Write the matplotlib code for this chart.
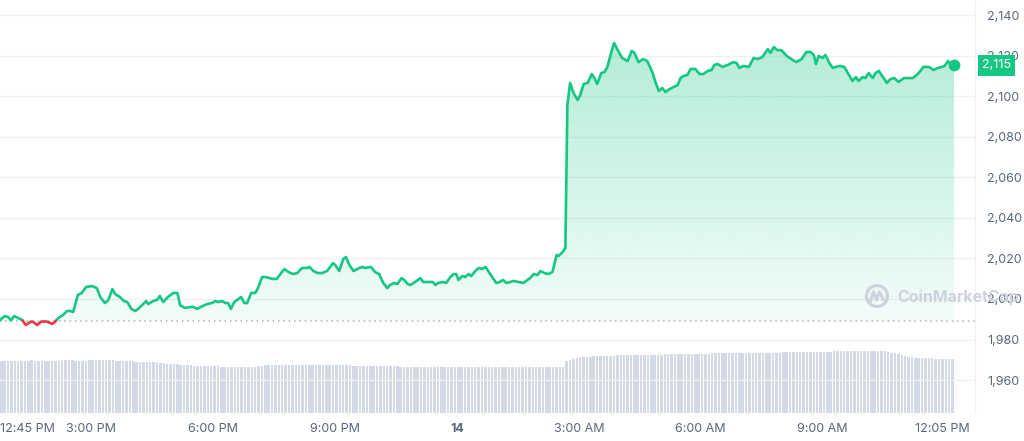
import numpy as np
import matplotlib
matplotlib.use("Agg")
import matplotlib.pyplot as plt
from matplotlib.patches import Circle
from matplotlib.path import Path

plt.rcParams['font.family'] = ['Inter', 'DejaVu Sans']

# ---------------- data ----------------
# minutes after 12:45 PM (13th)
times = [0, 7, 12, 16, 21, 27, 33, 38, 46, 49, 55, 61, 69, 77, 81, 86, 93, 99, 103, 108,
         115, 121, 127, 136, 143, 148, 155, 160, 166, 170, 177, 183, 188, 194, 200, 204, 210, 216, 219, 226,
         232, 236, 241, 248, 256, 262, 266, 273, 282, 285, 291, 299, 306, 313, 318, 322, 328, 333, 337, 341,
         346, 352, 356, 361, 365, 371, 377, 381, 387, 393, 402, 409, 414, 420, 426, 433, 439, 446, 454, 457,
         463, 469, 476, 483, 492, 495, 501, 507, 511, 516, 522, 531, 535, 539, 548, 554, 560, 566, 572, 576,
         582, 587, 593, 597, 602, 606, 613, 621, 625, 633, 639, 643, 647, 655, 659, 665, 670, 674, 677, 683,
         687, 692, 696, 702, 707, 712, 717, 721, 727, 733, 738, 743, 748, 754, 758, 766, 773, 779, 783, 788,
         794, 798, 804, 810, 816, 822, 825, 831, 835, 838, 842, 847, 853, 857, 862, 868, 874, 878, 882, 888,
         893, 897, 903, 907, 913, 919, 927, 933, 937, 943, 950, 956, 964, 968, 973, 978, 983, 989, 995, 1001,
         1005, 1009, 1015, 1020, 1027, 1033, 1039, 1045, 1051, 1055, 1060, 1067, 1075, 1083, 1088, 1092, 1098, 1106, 1113, 1119,
         1126, 1134, 1138, 1143, 1148, 1154, 1162, 1171, 1176, 1184, 1191, 1197, 1202, 1205, 1209, 1215, 1219, 1225, 1230, 1234,
         1240, 1247, 1253, 1259, 1264, 1268, 1274, 1278, 1283, 1289, 1293, 1298, 1304, 1310, 1315, 1321, 1327, 1335, 1341, 1348,
         1352, 1358, 1364, 1372, 1379, 1385, 1391, 1395, 1400, 1404, 1409]

prices = [1989.6, 1991.6, 1991.1, 1989.5, 1991.6, 1990.6, 1989.6, 1987.2, 1988.9, 1988.7, 1987.2, 1988.9, 1988.9, 1987.7, 1988.7, 1990.6, 1992.1, 1994.1, 1994.1, 1993.6,
          2002.0, 2003.0, 2005.9, 2006.4, 2005.4, 2001.0, 1998.0, 1999.5, 2004.9, 2002.5, 2001.0, 1999.0, 1998.5, 1995.1, 1994.1, 1995.1, 1997.0, 1999.0, 1997.5, 1999.0,
          1999.5, 2001.5, 1998.5, 2001.0, 2003.0, 2003.0, 1997.0, 1995.6, 1996.1, 1996.1, 1995.1, 1996.5, 1997.5, 1998.0, 1999.0, 1998.5, 1999.0, 1998.0, 1998.0, 1995.1,
          1998.5, 2000.0, 2001.0, 1998.0, 1998.0, 2003.0, 2003.0, 2005.4, 2010.8, 2010.8, 2009.9, 2009.9, 2012.3, 2014.8, 2013.3, 2012.3, 2012.8, 2015.3, 2015.3, 2015.8,
          2013.8, 2012.8, 2012.8, 2013.8, 2017.7, 2016.8, 2013.8, 2019.7, 2020.7, 2016.8, 2013.8, 2015.3, 2015.8, 2015.3, 2015.8, 2013.3, 2012.3, 2007.9, 2005.4, 2006.9,
          2007.9, 2007.4, 2010.3, 2009.4, 2007.4, 2006.9, 2008.4, 2010.3, 2008.4, 2008.4, 2008.4, 2006.9, 2007.9, 2008.4, 2007.9, 2010.8, 2012.3, 2012.3, 2009.4, 2011.3,
          2010.8, 2012.3, 2011.3, 2013.8, 2015.3, 2014.8, 2015.8, 2013.8, 2010.8, 2007.9, 2008.4, 2009.4, 2007.9, 2008.4, 2008.9, 2008.4, 2007.9, 2009.4, 2010.3, 2012.3,
          2011.8, 2013.8, 2012.8, 2012.3, 2013.3, 2021.7, 2021.2, 2023.2, 2025.1, 2095.6, 2106.5, 2101.6, 2098.1, 2100.6, 2106.0, 2106.5, 2110.9, 2108.9, 2106.0, 2111.4,
          2111.9, 2114.4, 2121.8, 2126.2, 2122.3, 2118.8, 2117.3, 2122.3, 2121.3, 2116.8, 2118.3, 2117.3, 2111.4, 2107.0, 2102.5, 2104.0, 2102.0, 2103.5, 2104.5, 2105.5,
          2108.9, 2109.9, 2110.4, 2113.4, 2113.4, 2110.9, 2110.9, 2112.4, 2112.9, 2115.4, 2115.8, 2114.4, 2115.4, 2116.8, 2116.3, 2113.9, 2114.9, 2114.4, 2118.8, 2118.3,
          2119.3, 2123.2, 2121.3, 2124.2, 2122.7, 2122.7, 2119.8, 2117.8, 2116.8, 2118.3, 2121.8, 2121.8, 2120.3, 2115.8, 2119.8, 2118.8, 2120.3, 2116.3, 2113.9, 2114.4,
          2114.9, 2114.4, 2110.9, 2107.5, 2109.4, 2107.5, 2109.4, 2108.9, 2111.4, 2108.9, 2111.4, 2112.4, 2109.4, 2106.5, 2108.4, 2108.9, 2107.0, 2108.9, 2108.9, 2108.9,
          2109.9, 2111.9, 2114.4, 2114.4, 2112.9, 2113.9, 2114.4, 2114.9, 2117.3, 2115.4, 2115.2]

open_price = 1989.3

# 24h volume (billions), one bar per 5 minutes, grouped by hour
volume = [
    5.2, 5.2, 5.2, 5.2, 5.2, 5.2, 5.2, 5.2, 5.2, 5.3, 5.2, 5.2,
    5.2, 5.2, 5.2, 5.2, 5.2, 5.2, 5.3, 5.3, 5.3, 5.3, 5.2, 5.2,
    5.2, 5.2, 5.3, 5.3, 5.3, 5.3, 5.3, 5.3, 5.3, 5.3, 5.2, 5.2,
    5.2, 5.2, 5.2, 5.2, 5.1, 5.1, 5.1, 5.1, 5.1, 5.1, 5.1, 5.0,
    5.0, 4.9, 4.9, 4.9, 4.9, 4.8, 4.8, 4.8, 4.8, 4.7, 4.7, 4.7,
    4.7, 4.7, 4.7, 4.7, 4.7, 4.6, 4.6, 4.6, 4.6, 4.6, 4.6, 4.6,
    4.6, 4.6, 4.6, 4.6, 4.7, 4.7, 4.8, 4.8, 4.8, 4.8, 4.8, 4.8,
    4.8, 4.8, 4.8, 4.8, 4.8, 4.8, 4.8, 4.8, 4.8, 4.8, 4.8, 4.8,
    4.8, 4.8, 4.8, 4.8, 4.8, 4.8, 4.8, 4.8, 4.7, 4.7, 4.7, 4.7,
    4.7, 4.7, 4.7, 4.7, 4.7, 4.7, 4.7, 4.7, 4.7, 4.7, 4.6, 4.6,
    4.6, 4.6, 4.6, 4.6, 4.6, 4.6, 4.6, 4.6, 4.6, 4.6, 4.6, 4.6,
    4.6, 4.6, 4.6, 4.6, 4.6, 4.6, 4.6, 4.6, 4.6, 4.6, 4.6, 4.6,
    4.6, 4.6, 4.6, 4.6, 4.6, 4.6, 4.6, 4.6, 4.6, 4.6, 4.6, 4.6,
    4.6, 4.6, 4.6, 4.6, 4.6, 4.6, 4.6, 4.6, 4.6, 4.6, 4.6, 5.2,
    5.3, 5.4, 5.5, 5.5, 5.6, 5.6, 5.6, 5.7, 5.7, 5.7, 5.7, 5.7,
    5.7, 5.7, 5.8, 5.8, 5.8, 5.8, 5.8, 5.8, 5.8, 5.8, 5.8, 5.8,
    5.8, 5.8, 5.8, 5.8, 5.9, 5.9, 5.9, 5.9, 5.9, 5.9, 5.9, 5.9,
    5.9, 5.9, 5.9, 5.9, 5.9, 5.9, 6.0, 6.0, 6.0, 6.0, 6.0, 6.0,
    6.0, 6.0, 6.0, 6.0, 6.0, 6.0, 6.0, 6.0, 6.0, 6.0, 6.0, 6.0,
    6.0, 6.0, 6.0, 6.1, 6.1, 6.1, 6.1, 6.1, 6.1, 6.1, 6.1, 6.1,
    6.1, 6.1, 6.1, 6.1, 6.1, 6.1, 6.2, 6.2, 6.2, 6.2, 6.2, 6.2,
    6.2, 6.2, 6.2, 6.2, 6.2, 6.2, 6.2, 6.2, 6.2, 6.2, 6.1, 6.0,
    6.0, 5.9, 5.8, 5.7, 5.6, 5.6, 5.5, 5.5, 5.5, 5.5, 5.5, 5.5,
    5.4, 5.4, 5.4, 5.4, 5.4, 5.4]
volume_step_min = 5

tick_minutes = [0, 135, 315, 495, 675, 855, 1035, 1215, 1392]
tick_labels = ["12:45 PM", "3:00 PM", "6:00 PM", "9:00 PM", "14", "3:00 AM", "6:00 AM", "9:00 AM", "12:05 PM"]
price_ticks = [1960, 1980, 2000, 2020, 2040, 2060, 2080, 2100, 2120, 2140]

# ---------------- style ----------------
GREEN = '#16c784'
RED = '#ea3943'
GRID = '#eff2f5'
TXT = '#58667e'
VOLC = '#d3d9e6'

fig = plt.figure(figsize=(10.24, 4.41), dpi=100)
pos = [0.0, 1 - 413 / 441, 975 / 1024, 413 / 441]

# volume axes (underneath)
axv = fig.add_axes(pos, zorder=0)
vt = np.arange(len(volume)) * volume_step_min
axv.bar(vt, volume, width=volume_step_min * 0.74, align='edge', color=VOLC, linewidth=0)
axv.set_xlim(0, 1440)
axv.set_ylim(0, 41.3)
axv.axis('off')

# price axes
ax = fig.add_axes(pos, zorder=1)
ax.patch.set_visible(False)
t = np.array(times, dtype=float)
p = np.array(prices, dtype=float)

# insert crossing points with the open price
tt, pp = [t[0]], [p[0]]
for i in range(1, len(t)):
    if (p[i - 1] - open_price) * (p[i] - open_price) < 0:
        f = (open_price - p[i - 1]) / (p[i] - p[i - 1])
        tt.append(t[i - 1] + f * (t[i] - t[i - 1]))
        pp.append(open_price)
    tt.append(t[i]); pp.append(p[i])
tt = np.array(tt); pp = np.array(pp)

ymin, ymax = 1943.8, 2147.4
ax.set_xlim(0, 1440)
ax.set_ylim(ymin, ymax)

# gradient fill under the line (down to open price)
top_v, bot_v = 2130.0, 1962.0
n = 256
grad = np.zeros((n, 1, 4))
rgb = matplotlib.colors.to_rgb(GREEN)
grad[:, 0, 0], grad[:, 0, 1], grad[:, 0, 2] = rgb
grad[:, 0, 3] = np.linspace(0, 0.33, n)
im = ax.imshow(grad, extent=[0, 1440, bot_v, top_v], origin='lower', aspect='auto', zorder=1,
               interpolation='bilinear')
verts = [(tt[0], open_price)] + list(zip(tt, np.maximum(pp, open_price))) + [(tt[-1], open_price)]
clip = Path(verts + [verts[0]], closed=True)
im.set_clip_path(clip, transform=ax.transData)
ax.set_xlim(0, 1440)
ax.set_ylim(ymin, ymax)

# grid
for v in price_ticks:
    ax.axhline(v, color=GRID, lw=1, zorder=0)
ax.axhline(open_price, color='#a6b0c3', lw=1.1, ls=(0, (1, 2.5)), zorder=2)

green_y = np.where(pp >= open_price, pp, np.nan)
red_y = np.where(pp <= open_price, pp, np.nan)
ax.plot(tt, green_y, color=GREEN, lw=1.9, solid_joinstyle='round', solid_capstyle='round', zorder=4)
ax.plot(tt, red_y, color=RED, lw=1.9, solid_joinstyle='round', solid_capstyle='round', zorder=4)
ax.plot([t[-1]], [p[-1]], 'o', ms=7.5, color=GREEN, zorder=5)

# axes styling
for s in ['top', 'left', 'bottom']:
    ax.spines[s].set_visible(False)
ax.spines['right'].set_color(GRID)
ax.yaxis.tick_right()
ax.set_yticks(price_ticks)
ax.set_yticklabels([f"{v:,}" for v in price_ticks])
ax.tick_params(axis='y', length=0, pad=9, labelsize=9, labelcolor=TXT)
ax.set_xticks(tick_minutes)
ax.set_xticklabels(tick_labels)
ax.tick_params(axis='x', length=0, pad=7, labelsize=9, labelcolor=TXT)
xl = ax.get_xticklabels()
xl[0].set_ha('left')
xl[4].set_fontweight('bold')

# last price tag
ax.annotate(f"{p[-1]:,.0f}", xy=(1.0, p[-1]), xycoords=('axes fraction', 'data'),
            xytext=(5, 0), textcoords='offset points', ha='left', va='center',
            fontsize=9, color='white', zorder=10, annotation_clip=False,
            bbox=dict(boxstyle='square,pad=0.35', fc=GREEN, ec='none'))

# watermark
WM = '#cdd2dc'
fig.add_artist(Circle((8.77, 4.41 - 2.96), 0.105, transform=fig.dpi_scale_trans,
                      fill=False, ec=WM, lw=2.2, zorder=20))
wx = np.array([8.705, 8.735, 8.765, 8.795, 8.83])
wy = np.array([1.40, 1.49, 1.41, 1.49, 1.42])
fig.add_artist(plt.Line2D(wx, wy, transform=fig.dpi_scale_trans, color=WM, lw=2.2, zorder=20))
fig.text(8.97 / 10.24, (4.41 - 2.97) / 4.41, "CoinMarketCap", fontsize=11.5, fontweight='bold',
         color=WM, ha='left', va='center', zorder=20)

fig.savefig('out.png', dpi=100)
